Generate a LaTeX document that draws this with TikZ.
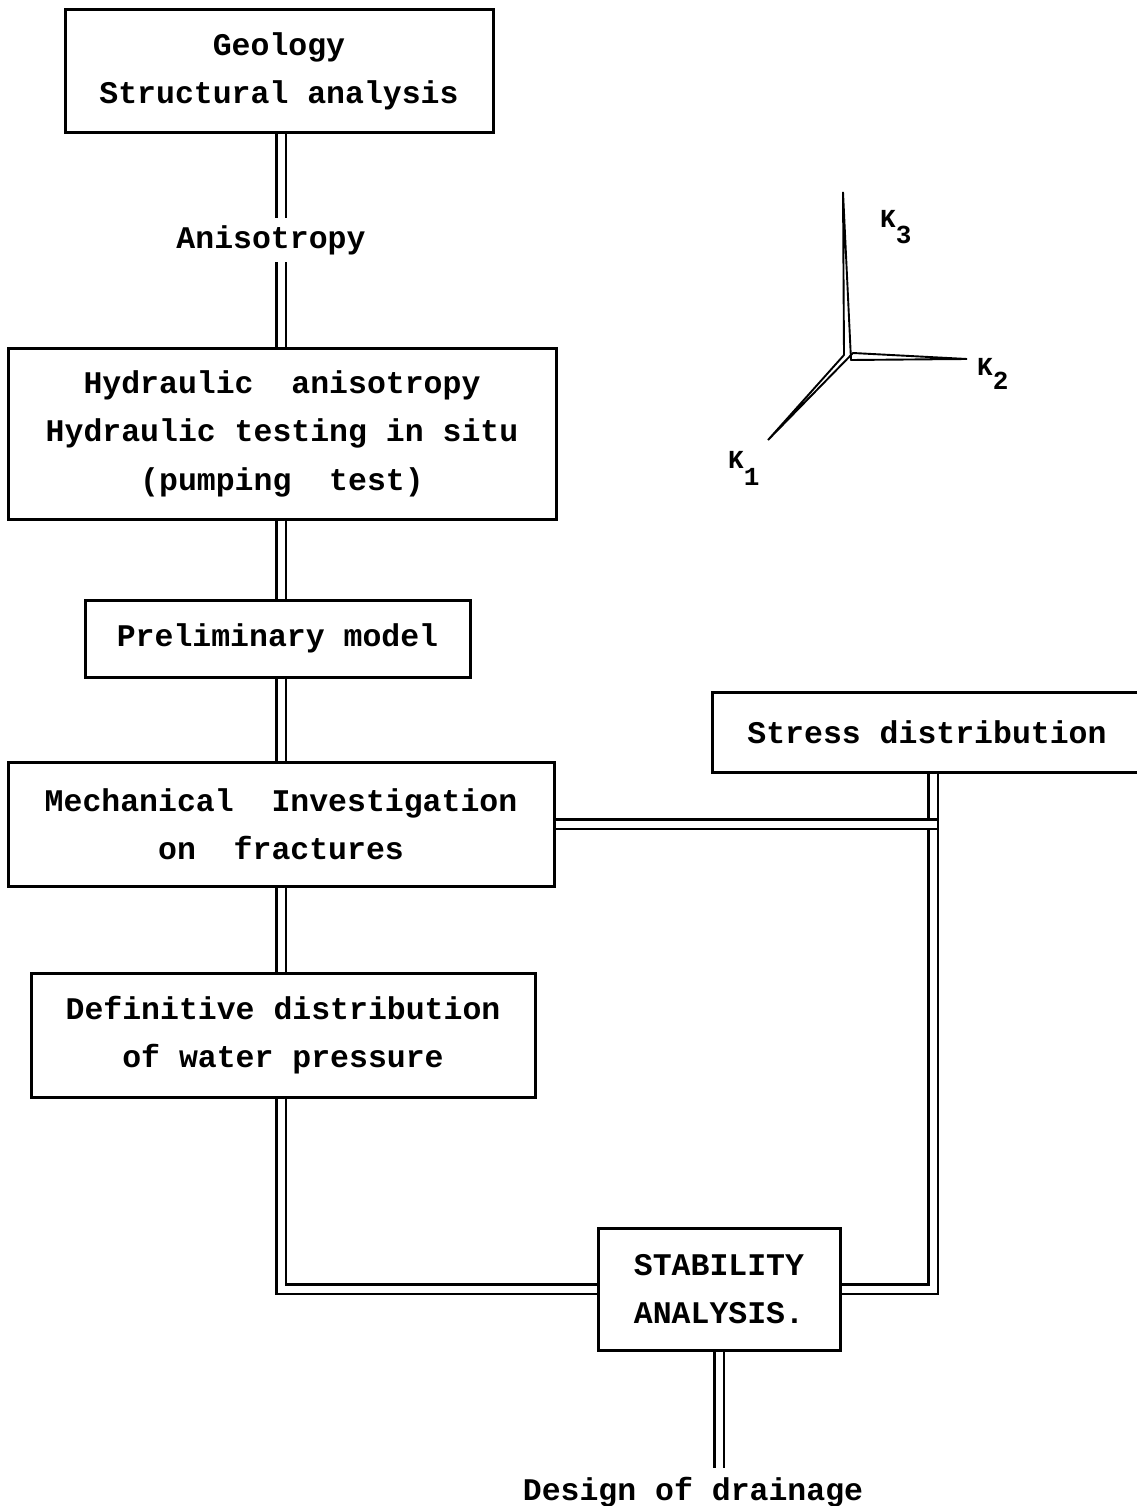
\documentclass[tikz,border=0pt]{standalone}
\usepackage{fontspec}
\newfontfamily\tw{Liberation Mono}
\begin{document}
\begin{tikzpicture}[x=1pt,y=-1pt,
  txt/.style={font=\tw\bfseries\fontsize{31.5}{48.5}\selectfont},
  box/.style={txt, draw, line width=3pt, inner sep=0pt, align=center},
  lbl/.style={txt, inner sep=0pt, align=center},
  klbl/.style={font=\tw\bfseries\fontsize{26}{30}\selectfont, inner sep=0pt, anchor=base west},
  dl/.style={draw, line width=2.6pt, double, double distance=7pt},
  axis/.style={draw, line width=1.9pt, line cap=round},
]
\useasboundingbox (0,0) rectangle (1136,1506);

% column coordinates
\coordinate (cx) at (281,0);
\coordinate (vx) at (933,0);

% boxes
\node[box, minimum width=428pt, minimum height=123pt] (geo) at (279,71.5)
  {Geology\\Structural~analysis};
\node[lbl, minimum height=44pt] (aniso) at (271,240) {Anisotropy};
\node[box, minimum width=548pt, minimum height=171pt] (hyd) at (282,433.5)
  {Hydraulic~~anisotropy\\Hydraulic~testing~in~situ\\(pumping~~test)};
\node[box, minimum width=385pt, minimum height=77pt] (pre) at (277.5,638.5)
  {Preliminary~model};
\node[box, minimum width=546pt, minimum height=124pt] (mech) at (281,824)
  {Mechanical~~Investigation\\on~~fractures};
\node[box, minimum width=504pt, minimum height=124pt] (defn) at (283,1035)
  {Definitive~distribution\\of~water~pressure};
\node[box, minimum width=430pt, minimum height=80pt] (stress) at (927,732)
  {Stress~distribution};
\node[box, minimum width=242pt, minimum height=122pt] (stab) at (719,1289)
  {STABILITY\\ANALYSIS.};
\node[lbl, anchor=base, inner ysep=9pt] (drain) at (693,1500) {Design~of~drainage};

% connectors
\draw[dl] (geo.south -| cx) -- (aniso.north -| cx);
\draw[dl] (aniso.south -| cx) -- (hyd.north -| cx);
\draw[dl] (hyd.south -| cx) -- (pre.north -| cx);
\draw[dl] (pre.south -| cx) -- (mech.north -| cx);
\draw[dl] (mech.south -| cx) -- (defn.north -| cx);
\draw[dl] (defn.south -| cx) |- (stab.west);
\draw[dl] (stress.south -| vx) |- (stab.east);
\draw[dl] (mech.east) -- ([xshift=3.5pt]mech.east -| vx);
\draw[dl] (stab.south) -- (stab.south |- drain.north);

% permeability axes
\coordinate (O) at (847,357);
\coordinate (k3) at (843,192);
\coordinate (k2) at (967,359);
\coordinate (k1) at (768,440);
\draw[axis] ([xshift=-3pt,yshift=2pt]O) -- (k3) -- ([xshift=4pt,yshift=-3pt]O);
\draw[axis] ([xshift=4pt,yshift=-3pt]O) -- (k2) -- ([xshift=6pt,yshift=4pt]O);
\draw[axis] ([xshift=-3pt,yshift=2pt]O) -- (k1) -- ([xshift=6pt,yshift=4pt]O);
\node[klbl] (K3) at (880,228) {K\raisebox{-16pt}{3}};
\node[klbl] (K2) at (977,375) {K\raisebox{-14pt}{2}};
\node[klbl] (K1) at (728,468) {K\raisebox{-17pt}{1}};
\end{tikzpicture}
\end{document}
